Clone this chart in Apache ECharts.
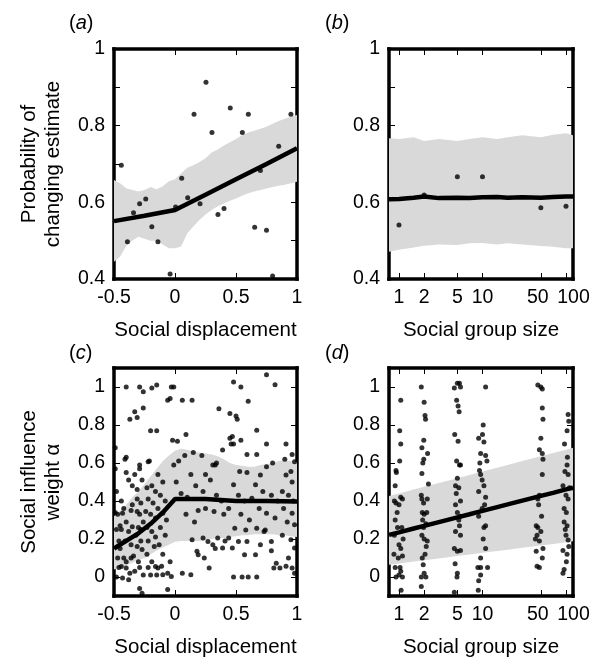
<!DOCTYPE html>
<html>
<head>
<meta charset="utf-8">
<script src="https://cdn.jsdelivr.net/npm/echarts@6/dist/echarts.min.js"></script>
<style>
html,body{margin:0;padding:0;background:#fff}
#chart{width:594px;height:660px}
</style>
</head>
<body>
<div id="chart"></div>
<script>
var FONT = 'Liberation Sans, Arial, Helvetica, sans-serif';

// ---- panel (a): probability vs social displacement ----
var aPoints = [[-0.44,0.697],[-0.39,0.497],[-0.34,0.573],[-0.29,0.596],[-0.24,0.609],[-0.19,0.536],
  [-0.14,0.497],[-0.04,0.413],[0.005,0.588],[0.055,0.663],[0.104,0.612],[0.156,0.83],[0.205,0.596],
  [0.254,0.913],[0.303,0.782],[0.352,0.568],[0.402,0.584],[0.453,0.846],[0.552,0.782],[0.601,0.83],
  [0.653,0.535],[0.70,0.683],[0.75,0.527],[0.80,0.408],[0.85,0.746],[0.95,0.83]];
var dispX = [-0.5,-0.45,-0.4,-0.35,-0.3,-0.25,-0.2,-0.15,-0.1,-0.05,0,0.05,0.1,0.15,0.2,0.25,
  0.3,0.35,0.4,0.45,0.5,0.55,0.6,0.65,0.7,0.75,0.8,0.85,0.9,0.95,1];
var aUpper = [0.658,0.65,0.637,0.632,0.628,0.632,0.64,0.634,0.642,0.655,0.66,0.675,0.69,0.697,0.705,
  0.715,0.73,0.738,0.748,0.757,0.765,0.775,0.782,0.787,0.792,0.797,0.805,0.812,0.818,0.823,0.828];
var aLower = [0.445,0.458,0.486,0.5,0.51,0.505,0.5,0.5,0.49,0.48,0.48,0.485,0.519,0.537,0.554,0.568,
  0.58,0.59,0.597,0.604,0.61,0.617,0.624,0.628,0.632,0.636,0.64,0.643,0.646,0.65,0.654];
var aLineX = [-0.5,-0.25,0,0.25,0.5,0.75,1];
var aLineY = [0.551,0.565,0.58,0.62,0.66,0.70,0.741];

// ---- panel (b): probability vs social group size ----
var bPoints = [[1,0.541],[2,0.619],[5,0.667],[10,0.667],[50,0.586],[100,0.59]];
var sizeX = [0.759,1,1.5,2,3,5,7,10,15,20,30,50,70,100,121.3];
var bUpper = [0.767,0.765,0.77,0.76,0.765,0.76,0.765,0.77,0.765,0.77,0.775,0.77,0.776,0.78,0.775];
var bLower = [0.471,0.476,0.482,0.487,0.49,0.489,0.493,0.494,0.49,0.493,0.49,0.486,0.484,0.48,0.48];
var bLine = [0.608,0.609,0.612,0.615,0.611,0.612,0.611,0.613,0.614,0.612,0.613,0.612,0.614,0.615,0.615];

// ---- panel (c): social influence weight vs social displacement ----
var cPoints = [
  [-0.49,0.68],[-0.49,0.57],[-0.48,0.45],[-0.49,0.34],[-0.47,0.33],[-0.48,0.25],[-0.46,0.19],[-0.47,0.10],
  [-0.46,0.05],[-0.48,0.0],[-0.45,0.15],[-0.45,0.27],
  [-0.40,1.0],[-0.37,0.83],[-0.40,0.63],[-0.41,0.62],[-0.40,0.55],[-0.38,0.51],[-0.44,0.40],[-0.42,0.36],
  [-0.43,0.335],[-0.36,0.35],[-0.40,0.29],[-0.44,0.25],[-0.38,0.24],[-0.41,0.19],[-0.36,0.17],[-0.42,0.10],
  [-0.40,0.08],[-0.44,0.055],[-0.40,0.047],[-0.37,0.02],[-0.43,-0.005],[-0.38,-0.015],[-0.36,0.10],
  [-0.33,0.87],[-0.31,0.84],[-0.29,1.0],[-0.26,0.89],[-0.26,0.975],[-0.29,0.59],[-0.29,0.57],[-0.33,0.54],
  [-0.27,0.51],[-0.35,0.48],[-0.31,0.46],[-0.31,0.41],[-0.35,0.38],[-0.28,0.39],[-0.31,0.345],[-0.29,0.33],
  [-0.26,0.29],[-0.35,0.265],[-0.30,0.26],[-0.28,0.25],[-0.32,0.22],[-0.28,0.19],[-0.31,0.16],[-0.27,0.145],
  [-0.34,0.11],[-0.30,0.08],[-0.29,0.05],[-0.33,0.03],[-0.26,0.01],[-0.29,-0.06],[-0.27,-0.085],
  [-0.22,0.607],[-0.21,0.61],[-0.19,0.995],[-0.15,1.01],[-0.20,0.77],[-0.15,0.77],[-0.23,0.47],[-0.19,0.48],
  [-0.16,0.45],[-0.22,0.41],[-0.18,0.39],[-0.24,0.345],[-0.20,0.33],[-0.16,0.31],[-0.23,0.26],[-0.19,0.24],
  [-0.16,0.21],[-0.22,0.19],[-0.17,0.16],[-0.23,0.12],[-0.19,0.08],[-0.22,0.05],[-0.16,0.055],[-0.20,0.01],
  [-0.15,0.01],
  [-0.06,0.93],[-0.04,0.94],[-0.03,1.0],[-0.01,1.0],[-0.02,0.72],[-0.01,0.59],[-0.14,0.54],[-0.10,0.50],
  [-0.12,0.43],[-0.08,0.40],[-0.14,0.36],[-0.10,0.335],[-0.12,0.26],[-0.08,0.22],[-0.13,0.17],[-0.10,0.12],
  [-0.14,0.047],[-0.11,0.056],[-0.10,0.012],[-0.06,0.02],[-0.03,0.003],[-0.06,-0.066],[-0.07,0.30],[-0.04,0.08],
  [0.02,0.715],[0.06,0.93],[0.09,0.75],[0.14,0.93],[0.08,0.64],[0.15,0.655],[0.01,0.50],[0.05,0.44],
  [0.10,0.42],[0.17,0.48],[0.13,0.54],[0.19,0.35],[0.09,0.33],[0.16,0.29],[0.14,0.196],[0.18,0.135],
  [0.19,0.117],[0.06,0.02],[0.13,0.012],[0.03,0.61],
  [0.22,0.64],[0.31,0.59],[0.33,0.59],[0.34,0.60],[0.36,0.886],[0.39,0.668],[0.25,0.54],[0.29,0.51],
  [0.23,0.45],[0.34,0.43],[0.38,0.40],[0.25,0.36],[0.32,0.345],[0.40,0.33],[0.23,0.205],[0.27,0.187],
  [0.31,0.17],[0.35,0.205],[0.39,0.152],[0.24,0.10],[0.28,0.047],[0.33,0.15],[0.41,0.19],
  [0.48,1.026],[0.54,1.0],[0.60,0.925],[0.45,0.86],[0.50,0.848],[0.51,0.83],[0.45,0.73],[0.47,0.74],
  [0.48,0.70],[0.46,0.70],[0.54,0.72],[0.59,0.645],[0.53,0.555],[0.59,0.55],[0.48,0.485],[0.52,0.43],
  [0.57,0.40],[0.63,0.414],[0.44,0.36],[0.54,0.33],[0.61,0.30],[0.49,0.257],[0.58,0.248],[0.44,0.205],
  [0.52,0.187],[0.59,0.187],[0.47,0.152],[0.57,0.117],[0.48,0.0],[0.55,0.0],[0.60,0.0],
  [0.67,0.773],[0.75,0.70],[0.75,1.065],[0.82,1.012],[0.67,0.645],[0.80,0.60],[0.70,0.537],[0.75,0.58],
  [0.66,0.485],[0.72,0.45],[0.79,0.43],[0.84,0.40],[0.69,0.36],[0.75,0.335],[0.82,0.31],[0.67,0.257],
  [0.74,0.248],[0.79,0.187],[0.70,0.17],[0.66,0.117],[0.79,0.138],[0.83,0.073],[0.81,0.047],[0.67,0.0],
  [0.73,0.24],
  [0.91,0.70],[0.96,0.645],[0.90,0.62],[0.98,0.607],[0.91,0.537],[0.95,0.555],[0.96,0.50],[0.88,0.45],
  [0.93,0.43],[0.97,0.40],[0.89,0.36],[0.96,0.335],[0.92,0.29],[0.98,0.275],[0.88,0.22],[0.95,0.196],
  [0.98,0.152],[0.93,0.10],[0.91,0.056],[0.96,0.047],[0.98,0.02],[0.86,0.047]];
var cUpper = [0.32,0.35,0.38,0.42,0.45,0.49,0.53,0.57,0.61,0.64,0.665,0.675,0.67,0.66,0.655,0.65,
  0.645,0.635,0.62,0.60,0.59,0.585,0.58,0.58,0.59,0.595,0.60,0.61,0.615,0.61,0.605];
var cLower = [0.04,0.05,0.06,0.075,0.09,0.10,0.12,0.14,0.155,0.17,0.185,0.19,0.19,0.19,0.19,0.195,
  0.20,0.205,0.205,0.21,0.215,0.22,0.22,0.225,0.225,0.225,0.225,0.22,0.22,0.215,0.21];
var cLineX = [-0.5,-0.4,-0.3,-0.2,-0.1,0,0.25,0.5,0.75,1];
var cLineY = [0.15,0.19,0.23,0.28,0.34,0.41,0.41,0.40,0.40,0.398];

// ---- panel (d): social influence weight vs social group size ----
var dPoints = [
  [1.05,0.93],[1.02,0.77],[1.05,0.70],[1.02,0.61],[0.92,0.56],[0.93,0.55],[0.90,0.48],[0.88,0.40],[0.92,0.39],
  [1.05,0.42],[1.10,0.41],[1.0,0.38],[0.90,0.30],[0.96,0.26],[0.88,0.22],[1.0,0.17],[1.05,0.15],[0.98,0.10],
  [1.10,0.11],[0.90,0.05],[0.92,0.0],[1.03,0.05],[1.0,0.01],[1.10,0.0],[1.05,0.03],[1.06,-0.07],[0.95,0.34],
  [1.12,0.20],[0.87,0.12],[1.08,0.26],
  [1.85,1.0],[2.0,0.92],[2.05,0.85],[2.08,0.83],[1.98,0.72],[1.88,0.68],[2.2,0.65],[1.98,0.62],[1.93,0.60],
  [1.88,0.545],[2.25,0.49],[1.85,0.43],[1.88,0.41],[1.97,0.39],[2.18,0.41],[1.9,0.34],[2.0,0.33],[2.15,0.34],
  [2.1,0.28],[1.97,0.26],[1.88,0.22],[2.0,0.20],[2.18,0.19],[2.12,0.16],[1.9,0.10],[1.95,0.065],[2.0,0.02],
  [1.85,0.0],[2.1,0.0],[1.85,-0.05],[2.05,0.12],[1.92,0.30],
  [4.6,0.995],[5.0,1.02],[5.3,1.02],[5.45,1.0],[4.9,0.93],[5.1,0.90],[5.25,0.87],[4.65,0.75],[5.1,0.715],
  [4.9,0.61],[5.3,0.59],[5.45,0.59],[5.0,0.52],[4.75,0.48],[5.2,0.47],[5.45,0.40],[4.75,0.38],[5.0,0.34],
  [5.45,0.32],[5.2,0.30],[4.75,0.24],[5.45,0.22],[4.6,0.15],[5.0,0.135],[5.45,0.14],[4.7,0.07],[5.0,0.02],
  [4.95,0.0],[4.6,-0.08],[5.3,0.27],[4.85,0.44],
  [10.9,1.0],[10.2,0.80],[9.0,0.73],[10.0,0.75],[10.4,0.71],[9.5,0.65],[10.9,0.64],[11.3,0.61],[9.2,0.56],
  [9.5,0.54],[9.9,0.51],[10.4,0.48],[9.0,0.45],[10.9,0.42],[9.9,0.36],[9.0,0.32],[10.9,0.27],[10.4,0.26],
  [10.2,0.20],[10.9,0.15],[9.5,0.10],[8.8,0.05],[9.5,0.05],[11.5,0.05],[9.5,0.01],[9.0,-0.02],[8.9,-0.07],
  [10.6,0.38],[9.3,0.60],
  [46,1.01],[50,1.0],[52,0.99],[52,0.89],[53,0.83],[50,0.73],[48,0.67],[52,0.65],[53,0.62],[52,0.54],
  [48,0.43],[46,0.41],[44,0.27],[46,0.26],[50,0.24],[43,0.20],[48,0.19],[53,0.15],[44,0.135],[52,0.10],
  [45,0.056],[48,0.05],[47,0.38],[51,0.32],[45,0.22],
  [106,0.855],[108,0.82],[103,0.77],[96,0.70],[104,0.63],[103,0.59],[97,0.555],[106,0.54],[92,0.48],
  [100,0.43],[106,0.41],[95,0.36],[101,0.34],[95,0.29],[103,0.27],[100,0.22],[106,0.195],[92,0.14],
  [103,0.12],[101,0.08],[95,0.04],[92,0.02],[110,0.47],[98,0.25],[108,0.16]];
var dUpper = [0.426,0.44,0.46,0.475,0.495,0.52,0.537,0.555,0.575,0.59,0.61,0.635,0.652,0.67,0.68];
var dLower = [0.064,0.071,0.081,0.088,0.098,0.11,0.118,0.127,0.137,0.144,0.154,0.166,0.174,0.183,0.188];
var dLine = [0.222,0.235,0.255,0.269,0.289,0.314,0.33,0.348,0.368,0.382,0.402,0.427,0.443,0.461,0.47];

var sizeTicks = [1,2,5,10,50,100];
var weightTicks = [0,0.2,0.4,0.6,0.8,1];

var TICK_FS = 19.5, NAME_FS = 20.5;
var tickStyle = {show:true, inside:true, length:6, lineStyle:{color:'#000', width:1}};
var labelBase = {fontSize:TICK_FS, color:'#000', fontFamily:FONT};
var nameStyle = {fontSize:NAME_FS, color:'#000', fontFamily:FONT, lineHeight:24};
// the four axis lines of each panel make up its heavy box
var frameLine = {show:true, onZero:false, lineStyle:{color:'#000', width:3.5, cap:'square'}};

function dispAxis(gi, main) {
  return {
    type:'value', gridIndex:gi, position: main ? 'bottom' : 'top',
    min:-0.5, max:1, interval:0.5,
    axisLine:frameLine, splitLine:{show:false}, axisTick:tickStyle,
    axisLabel:Object.assign({show:main, margin:9, formatter:function(v){ return String(Math.round(v*10)/10); }}, labelBase),
    name: main ? 'Social displacement' : '', nameLocation:'middle', nameGap:39, nameTextStyle:nameStyle
  };
}
// labels at 50 and 100 sit a little off their ticks in the original
var sizeRich = {
  l:{fontSize:TICK_FS, color:'#000', fontFamily:FONT, padding:[0,6,0,0]},
  r:{fontSize:TICK_FS, color:'#000', fontFamily:FONT, padding:[0,0,0,15]}
};
function sizeAxis(gi, main) {
  return {
    type:'log', logBase:10, gridIndex:gi, position: main ? 'bottom' : 'top',
    min:0.759, max:121.3,
    axisLine:frameLine, splitLine:{show:false},
    axisTick:Object.assign({customValues:sizeTicks}, tickStyle),
    axisLabel:Object.assign({show:main, margin:9, customValues:sizeTicks, rich:sizeRich, formatter:function(v){
      var n = Math.round(v);
      if (n === 50) return '{l|50}';
      if (n === 100) return '{r|100}';
      return String(n); }}, labelBase),
    name: main ? 'Social group size' : '', nameLocation:'middle', nameGap:39, nameTextStyle:nameStyle
  };
}
function probAxis(gi, main, name) {
  return {
    type:'value', gridIndex:gi, position: main ? 'left' : 'right',
    min:0.4, max:1, interval:0.1,
    axisLine:frameLine, splitLine:{show:false}, axisTick:tickStyle,
    axisLabel:Object.assign({show:main, margin:9, formatter:function(v){
      var r = Math.round(v*10); return r % 2 === 0 ? String(r/10) : ''; }}, labelBase),
    name: name || '', nameLocation:'middle', nameGap:49, nameRotate:90, nameTextStyle:nameStyle
  };
}
function weightAxis(gi, main, name) {
  return {
    type:'value', gridIndex:gi, position: main ? 'left' : 'right',
    min:-0.1, max:1.1,
    axisLine:frameLine, splitLine:{show:false},
    axisTick:Object.assign({customValues:weightTicks}, tickStyle),
    axisLabel:Object.assign({show:main, margin:9, customValues:weightTicks, formatter:function(v){ return String(Math.round(v*10)/10); }}, labelBase),
    name: name || '', nameLocation:'middle', nameGap:49, nameRotate:90, nameTextStyle:nameStyle
  };
}

function band(p, xs, lo, hi) {
  return {
    type:'custom', xAxisIndex:2*p, yAxisIndex:2*p, z:1, silent:true,
    data:[[xs[0], lo[0]]],
    renderItem:function(params, api) {
      var pts = [];
      for (var i = 0; i < xs.length; i++) pts.push(api.coord([xs[i], hi[i]]));
      for (var j = xs.length - 1; j >= 0; j--) pts.push(api.coord([xs[j], lo[j]]));
      return {type:'polygon', shape:{points:pts}, style:{fill:'#d9d9d9'}};
    }
  };
}
function dots(p, pts) {
  return {type:'scatter', xAxisIndex:2*p, yAxisIndex:2*p, z:3, data:pts,
    symbolSize:5, itemStyle:{color:'#000'}};
}
function fit(p, xs, ys) {
  return {type:'line', xAxisIndex:2*p, yAxisIndex:2*p, z:4, showSymbol:false,
    data:xs.map(function(x, i){ return [x, ys[i]]; }),
    lineStyle:{color:'#000', width:4.5}};
}

function panelTitle(letter, left, top) {
  return {text:'({i|' + letter + '})', left:left, top:top,
    textStyle:{fontSize:20, fontWeight:'normal', color:'#000', fontFamily:FONT,
      rich:{i:{fontStyle:'italic', fontSize:20, color:'#000', fontFamily:FONT}}}};
}

var myChart = echarts.init(document.getElementById('chart'));
var option = {
  animation:false,
  title:[panelTitle('a', 64, 8), panelTitle('b', 320, 8), panelTitle('c', 64, 338), panelTitle('d', 320, 338)],
  grid:[
    {left:114, top:49, width:183, height:230},
    {left:389, top:49, width:184, height:230},
    {left:114, top:368, width:183, height:230},
    {left:389, top:368, width:184, height:230}
  ],
  xAxis:[dispAxis(0, true), dispAxis(0, false), sizeAxis(1, true), sizeAxis(1, false),
         dispAxis(2, true), dispAxis(2, false), sizeAxis(3, true), sizeAxis(3, false)],
  yAxis:[probAxis(0, true, 'Probability of\nchanging estimate'), probAxis(0, false),
         probAxis(1, true), probAxis(1, false),
         weightAxis(2, true, 'Social influence\nweight \u03b1'), weightAxis(2, false),
         weightAxis(3, true), weightAxis(3, false)],
  series:[
    band(0, dispX, aLower, aUpper), dots(0, aPoints), fit(0, aLineX, aLineY),
    band(1, sizeX, bLower, bUpper), dots(1, bPoints), fit(1, sizeX, bLine),
    band(2, dispX, cLower, cUpper), dots(2, cPoints), fit(2, cLineX, cLineY),
    band(3, sizeX, dLower, dUpper), dots(3, dPoints), fit(3, sizeX, dLine)
  ]
};
myChart.setOption(option);
</script>
</body>
</html>
